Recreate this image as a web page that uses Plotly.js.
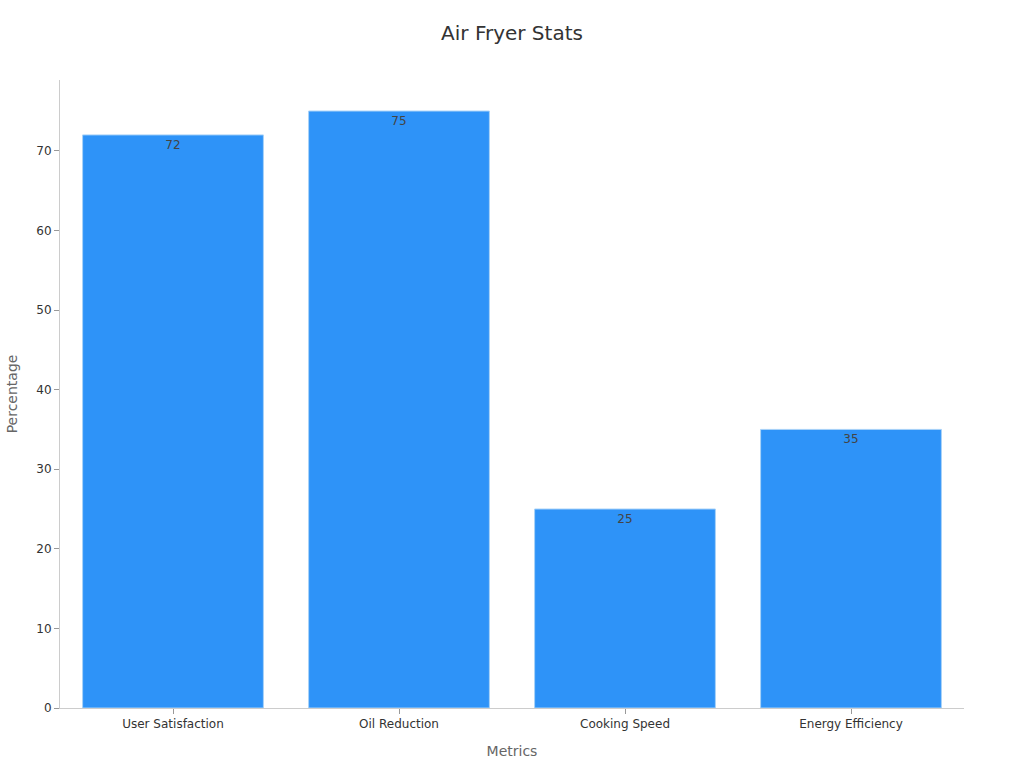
<!DOCTYPE html>
<html>
<head>
<meta charset="utf-8">
<script src="https://cdn.plot.ly/plotly-3.0.1.min.js"></script>
<style>html,body{margin:0;padding:0;background:#fff}#chart{width:1024px;height:768px}</style>
</head>
<body>
<div id="chart"></div>
<script>
const categories = ["User Satisfaction", "Oil Reduction", "Cooking Speed", "Energy Efficiency"];
const values = [72, 75, 25, 35];
const chartTitle = "Air Fryer Stats";
const xTitle = "Metrics";
const yTitle = "Percentage";

const trace = {
  type: "bar",
  x: categories,
  y: values,
  text: values.map(String),
  textposition: "inside",
  insidetextanchor: "end",
  textfont: {family: "DejaVu Sans, sans-serif", size: 12, color: "#444"},
  marker: {color: "#2E93F8", line: {color: "#A8D2F8", width: 1}},
  hoverinfo: "none"
};

const layout = {
  width: 1024, height: 768,
  margin: {l: 60, r: 60, t: 80, b: 60},
  paper_bgcolor: "#fff", plot_bgcolor: "#fff",
  font: {family: "DejaVu Sans, sans-serif", color: "#333"},
  title: {text: chartTitle, x: 0.5, xanchor: "center", y: 0.957, yanchor: "middle", font: {size: 20, color: "#333"}},
  bargap: 0.2,
  showlegend: false,
  xaxis: {
    title: {text: xTitle, font: {size: 14, color: "#666"}, standoff: 15},
    showline: true, linecolor: "#ccc", linewidth: 1,
    ticks: "outside", tickcolor: "#999", ticklen: 5,
    tickfont: {size: 12, color: "#333"},
    showgrid: false
  },
  yaxis: {
    title: {text: yTitle, font: {size: 14, color: "#666"}, standoff: 15},
    range: [0, 78.9],
    dtick: 10,
    showline: true, linecolor: "#ccc", linewidth: 1,
    ticks: "outside", tickcolor: "#999", ticklen: 5,
    tickfont: {size: 12, color: "#333"},
    showgrid: false, zeroline: false
  }
};

Plotly.newPlot("chart", [trace], layout, {displayModeBar: false, staticPlot: true});
</script>
</body>
</html>
